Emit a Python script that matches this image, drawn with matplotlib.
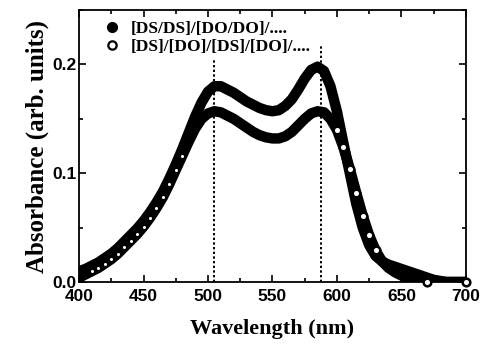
import matplotlib
matplotlib.use("Agg")
import matplotlib.pyplot as plt
from matplotlib.lines import Line2D
from matplotlib.ticker import MultipleLocator, FormatStrFormatter

wavelength = list(range(400, 701, 5))
abs_dsds = [0.010, 0.012, 0.015, 0.018, 0.022, 0.026, 0.031, 0.037, 0.043, 0.049,
            0.056, 0.064, 0.073, 0.083, 0.095, 0.108, 0.122, 0.137, 0.152, 0.165,
            0.175, 0.180, 0.180, 0.177, 0.174, 0.170, 0.166, 0.163, 0.160, 0.158,
            0.157, 0.158, 0.162, 0.168, 0.177, 0.187, 0.195, 0.198, 0.194, 0.180,
            0.157, 0.128, 0.100, 0.072, 0.050, 0.034, 0.024, 0.019, 0.016, 0.014,
            0.012, 0.010, 0.008, 0.006, 0.004, 0.002, 0.001, 0.000, 0.000, 0.000,
            0.000]
abs_dsdo = [0.004, 0.007, 0.010, 0.013, 0.017, 0.021, 0.026, 0.032, 0.038, 0.044,
            0.051, 0.059, 0.068, 0.078, 0.090, 0.103, 0.116, 0.129, 0.141, 0.150,
            0.155, 0.157, 0.156, 0.153, 0.150, 0.146, 0.142, 0.138, 0.135, 0.133,
            0.132, 0.132, 0.134, 0.138, 0.144, 0.150, 0.155, 0.157, 0.156, 0.150,
            0.140, 0.124, 0.104, 0.082, 0.061, 0.043, 0.029, 0.019, 0.013, 0.009,
            0.006, 0.004, 0.002, 0.001, 0.000, 0.000, 0.000, 0.000, 0.000, 0.000,
            0.000]
peak_lines = [505, 588]
peak_tops = [0.205, 0.217]
legend_labels = ["[DS/DS]/[DO/DO]/....", "[DS]/[DO]/[DS]/[DO]/...."]

fig = plt.figure(figsize=(4.94, 3.49), dpi=100)
ax = fig.add_axes([0.160, 0.192, 0.783, 0.779])

for x, top in zip(peak_lines, peak_tops):
    ax.plot([x, x], [0, top], ls=(0, (1.2, 1.2)), color="black", lw=1.4, zorder=1)

ax.plot(wavelength, abs_dsds, color="black", lw=7.5, solid_capstyle="round", zorder=2)
ax.plot(wavelength, abs_dsdo, color="black", lw=7.5, solid_capstyle="round", zorder=3)
dot_idx = [i for i, w in enumerate(wavelength) if 410 <= w <= 480]
ax.plot(wavelength, abs_dsdo, ls="none", marker="o", ms=2.2, mfc="white", mec="white",
        mew=0, markevery=dot_idx, zorder=4)
ring_idx = [i for i, w in enumerate(wavelength) if (597 <= w <= 632) or w in (670, 700)]
ax.plot(wavelength, abs_dsdo, ls="none", marker="o", ms=5.5, mfc="white", mec="black",
        mew=1.8, markevery=ring_idx, zorder=4, clip_on=False)

ax.set_xlim(400, 700)
ax.set_ylim(0, 0.25)
ax.xaxis.set_major_locator(MultipleLocator(50))
ax.xaxis.set_minor_locator(MultipleLocator(25))
ax.yaxis.set_major_locator(MultipleLocator(0.1))
ax.yaxis.set_minor_locator(MultipleLocator(0.05))
ax.yaxis.set_major_formatter(FormatStrFormatter("%.1f"))
ax.tick_params(which="both", direction="in", top=True, right=True, width=1.2)
ax.tick_params(which="major", length=5, labelsize=12.5)
ax.tick_params(axis="x", which="major", pad=5)
ax.tick_params(axis="y", which="major", pad=2)
ax.tick_params(which="minor", length=3)
for lab in ax.get_xticklabels() + ax.get_yticklabels():
    lab.set_fontfamily("Liberation Sans")
    lab.set_fontweight("bold")
for s in ax.spines.values():
    s.set_linewidth(1.3)

ax.set_xlabel("Wavelength (nm)", family="Liberation Serif", fontweight="bold", fontsize=16, labelpad=11)
ax.set_ylabel("Absorbance (arb. units)", family="Liberation Serif", fontweight="bold", fontsize=18, labelpad=2)

handles = [Line2D([], [], ls="none", marker="o", ms=7, mfc="black", mec="black"),
           Line2D([], [], ls="none", marker="o", ms=6, mfc="white", mec="black", mew=1.6)]
ax.legend(handles, legend_labels, loc="upper left", bbox_to_anchor=(0.035, 1.0), frameon=False,
          prop={"family": "Liberation Serif", "weight": "bold", "size": 12.5},
          handletextpad=0.6, labelspacing=0.15, handlelength=1.0, borderaxespad=0.2)

fig.savefig("out.png", dpi=100)
